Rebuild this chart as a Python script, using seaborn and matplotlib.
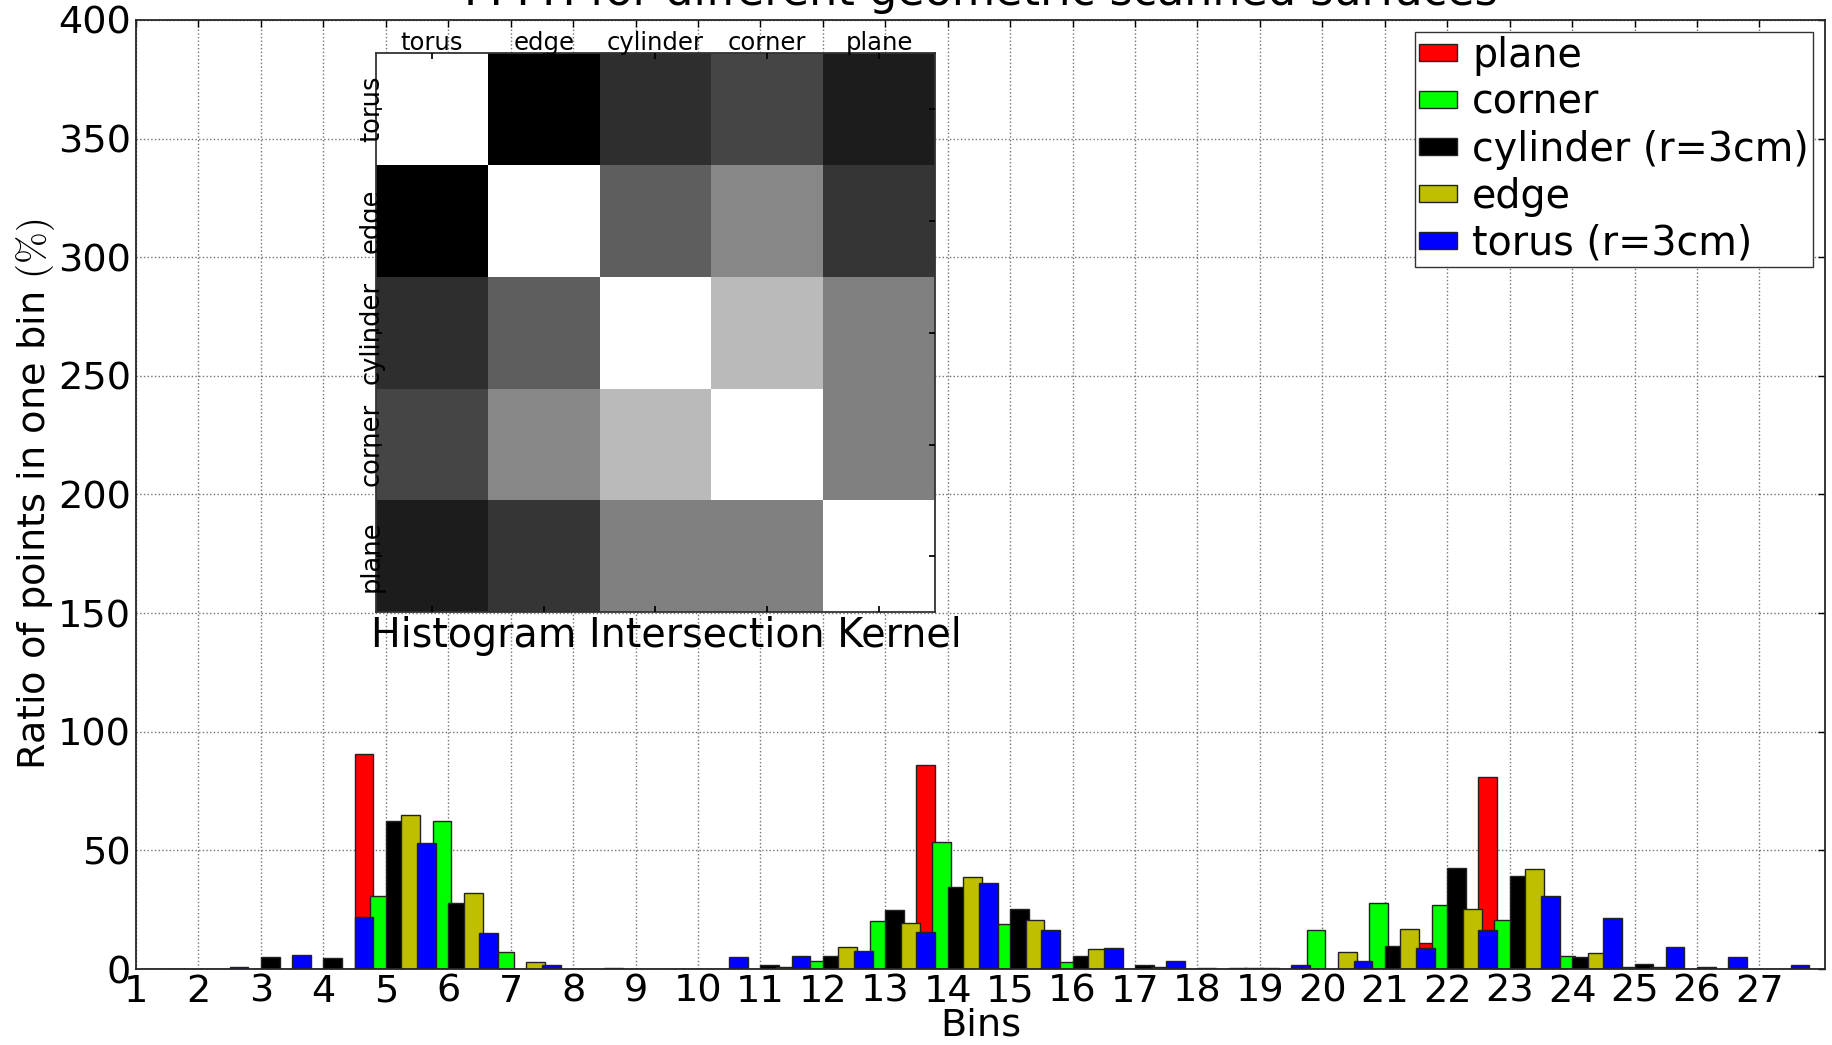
import numpy as np
import pandas as pd
import matplotlib
matplotlib.use("Agg")
import matplotlib.pyplot as plt
import seaborn as sns

# histogram bins (3 sub-histograms x 9 bins)
bins = list(range(1, 28))

# ratio of points in each bin (%)
plane = [0, 0, 0, 90.6, 0, 0, 0, 0, 0,
         0, 0, 0, 85.8, 0, 0, 0, 0, 0,
         0, 0, 10.8, 81.0, 0, 0, 0, 0, 0]
corner = [0, 0, 0, 30.6, 62.4, 7.0, 0, 0, 0,
          0, 3.4, 20.3, 53.4, 18.9, 3.1, 0, 0, 0.3,
          16.3, 27.9, 26.8, 20.8, 5.6, 1.0, 0, 0, 0]
cylinder = [0, 0, 5.2, 4.8, 62.3, 28.0, 0, 0, 0,
            0.2, 1.8, 5.6, 24.8, 34.4, 25.5, 5.5, 1.7, 0.6,
            0.3, 0, 9.6, 42.5, 39.4, 5.2, 2.0, 1.0, 0]
edge = [0, 0, 0, 0, 64.9, 32.1, 2.8, 0, 0,
        0, 1.0, 9.2, 19.3, 38.9, 20.8, 8.5, 1.0, 0,
        0, 7.3, 16.9, 25.4, 42.3, 6.6, 0.7, 0, 0]
torus = [0.2, 1.0, 5.8, 22.0, 53.1, 15.1, 1.7, 0.3, 0.2,
         5.2, 5.6, 7.6, 15.8, 36.3, 16.5, 8.7, 3.5, 0.3,
         1.7, 3.5, 8.7, 16.5, 30.7, 21.5, 9.4, 4.9, 1.8]

series_labels = ["plane", "corner", "cylinder (r=3cm)", "edge", "torus (r=3cm)"]

# histogram intersection kernel (normalised, 0 = black, 1 = white)
kernel_labels = ["torus", "edge", "cylinder", "corner", "plane"]
kernel = [
    [1.00, 0.00, 0.18, 0.27, 0.11],
    [0.00, 1.00, 0.37, 0.53, 0.21],
    [0.18, 0.37, 1.00, 0.73, 0.50],
    [0.27, 0.53, 0.73, 1.00, 0.50],
    [0.11, 0.21, 0.50, 0.50, 1.00],
]

# styles
series_colors = ["#ff0000", "#00ff00", "#000000", "#bfbf00", "#0000ff"]
series_shift = [0.5, 0.75, 0.0, 0.25, 0.5]
bar_width = 0.3

sns.set_theme(style="white")
plt.rcParams["font.family"] = ["DejaVu Sans"]
plt.rcParams["mathtext.fontset"] = "cm"
plt.rcParams["text.color"] = "black"
plt.rcParams["axes.labelcolor"] = "black"
plt.rcParams["xtick.color"] = "black"
plt.rcParams["ytick.color"] = "black"

fig = plt.figure(figsize=(18.33, 10.45), dpi=100)
ax = fig.add_axes([0.0742, 0.0727, 0.9214, 0.9082])

x = np.array(bins, dtype=float)
for vals, lab, col, shift in zip([plane, corner, cylinder, edge, torus],
                                 series_labels, series_colors, series_shift):
    ax.bar(x + shift, vals, width=bar_width, align="edge", color=col,
           edgecolor="#222222", linewidth=1.0, label=lab)

ax.set_xlim(1, 28.05)
ax.set_ylim(0, 400)
ax.set_xticks(bins)
ax.set_yticks(range(0, 401, 50))
ax.grid(True, linestyle=":", color="0.45", linewidth=1)
ax.set_axisbelow(True)
ax.tick_params(direction="in", top=True, right=True, length=5, width=1,
               labelsize=27.5, pad=3.5)
for sp in ax.spines.values():
    sp.set_color("0.15")
    sp.set_linewidth(1.3)

ax.set_title("FPFH for different geometric scanned surfaces", fontsize=32, pad=10.5)
ax.set_xlabel("Bins", fontsize=27.5, labelpad=-2)
ax.set_ylabel(r"Ratio of points in one bin $(\%)$", fontsize=27.5, labelpad=0.5)

ax.legend(loc="upper right", fontsize=28.5, frameon=True, fancybox=False,
          edgecolor="0.2", framealpha=1, handlelength=0.95, handleheight=0.3,
          handletextpad=0.4, labelspacing=0.175, borderpad=0.1, borderaxespad=0.3)

# inset: kernel matrix
axins = fig.add_axes([0.2051, 0.4141, 0.305, 0.535])
kernel_df = pd.DataFrame(kernel, index=kernel_labels, columns=kernel_labels)
sns.heatmap(kernel_df, ax=axins, cmap="gray", vmin=0, vmax=1, cbar=False,
            xticklabels=kernel_labels, yticklabels=kernel_labels)
axins.set_axisbelow(False)
axins.xaxis.tick_top()
axins.tick_params(axis="x", labelsize=17.5, pad=-1.2, direction="in", length=4,
                  top=True, bottom=True, labelrotation=0)
axins.tick_params(axis="y", labelsize=18.5, pad=-6.5, direction="in", length=4,
                  left=True, right=True, labelrotation=90)
plt.setp(axins.get_yticklabels(), va="center")
for sp in axins.spines.values():
    sp.set_visible(True)
    sp.set_color("0.2")
    sp.set_linewidth(1.3)
axins.set_xlabel("Histogram Intersection Kernel", fontsize=28.5, labelpad=3)
axins.xaxis.label.set_x(0.52)

fig.savefig("out.png", dpi=100)
